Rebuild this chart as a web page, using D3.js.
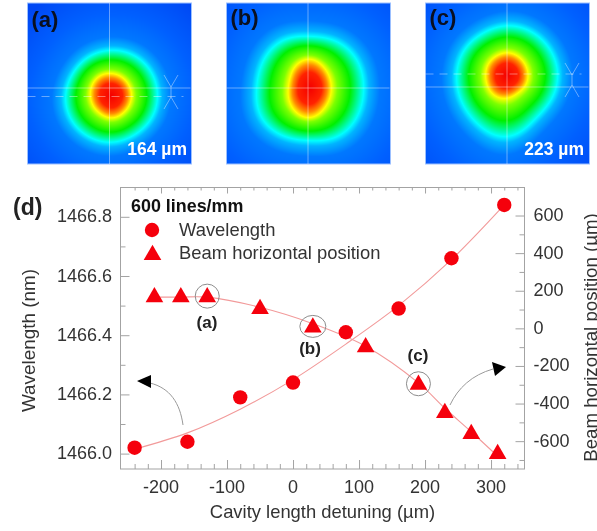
<!DOCTYPE html>
<html><head><meta charset="utf-8">
<script src="https://cdn.jsdelivr.net/npm/d3@7/dist/d3.min.js"></script>
<style>html,body{margin:0;padding:0;background:#fff;overflow:hidden}
#wrap{position:relative;width:597px;height:531px}
canvas{position:absolute;filter:blur(.6px)}svg{position:absolute;left:0;top:0;filter:blur(.3px)}
text{font-family:"Liberation Sans",Arial,sans-serif}</style></head>
<body><div id="wrap"></div>
<script>
// chart values
const wavelengthX=[-240,-160,-80,0,80,160,240,320];
const wavelengthY=[1466.02,1466.04,1466.19,1466.24,1466.41,1466.49,1466.66,1466.84];
const wavelengthFitX=[-240,-160,-80,0,80,160,240,320];
const wavelengthFitY=[1466.015,1466.07,1466.15,1466.25,1466.37,1466.5,1466.655,1466.84];
const beamX=[-210,-170,-130,-50,30,110,190,230,270,310];
const beamY=[166,166,166,103,5,-100,-300,-450,-562,-668];
const beamFitX=[-210,-170,-130,-50,30,110,190,230,270,310];
const beamFitY=[166,166,166,112,25,-95,-290,-425,-550,-680];
const xTicks=[-200,-100,0,100,200,300];
const leftTicks=[1466.0,1466.2,1466.4,1466.6,1466.8];
const rightTicks=[-600,-400,-200,0,200,400,600];
const circled=[{x:-130,y:166,label:"(a)"},{x:30,y:5,label:"(b)"},{x:190,y:-300,label:"(c)"}];
// beam profile panels: contour radii by angle, clockwise from +x
const panelNames=["(a)","(b)","(c)"];
const panelWidths=["164 µm","","223 µm"];
const panelLeft=[27.5,226.5,425.5];
const spotCentres=[[110.5,95],[309,87.5],[506,75]];
const spotOuter=[
 [46,46,45,47,47,47,46,44,45,45,46,46],
 [53,55,57,51,55,58,52,54,56,50,54,55],
 [51,50,50,65,56,52,50,50,48,50,50,50]];
const spotInner=[
 [20,20,21,23,21,21,21,22,23,22,21,20],
 [21,22,25,31,28,24,21,22,27,30,25,22],
 [21,21,20,23,24,22,21,22,22,23,22,21]];

const W=597,H=531;
const wrap=d3.select("#wrap");
const colour=d3.scaleLinear()
 .domain([0,.26,.38,.47,.57,.78,1,1.1,1.3,1.8,2.6])
 .range(["#f40000","#ff2200","#ff8c00","#ffff00","#7cff00","#00f000","#00ffff","#00b4ff","#0078ff","#0060ff","#0048f4"])
 .interpolate(d3.interpolateRgb).clamp(true);

panelLeft.forEach((left,i)=>{
  const pw=164,ph=161,top=3;
  const cv=wrap.append("canvas").attr("width",pw).attr("height",ph)
    .style("left",left+"px").style("top",top+"px").node();
  const ctx=cv.getContext("2d"),img=ctx.createImageData(pw,ph);
  const rOut=d3.interpolateBasisClosed(spotOuter[i]),rIn=d3.interpolateBasisClosed(spotInner[i]);
  const [cx,cy]=spotCentres[i];
  for(let y=0;y<ph;y++)for(let x=0;x<pw;x++){
    const dx=x+left-cx,dy=y+top-cy,r=Math.hypot(dx,dy);
    const a=((Math.atan2(dy,dx)/(2*Math.PI))+1)%1;
    const ro=rOut(a),ri=rIn(a);
    const t=r<ri?.47*r/ri:(r<ro?.47+.53*(r-ri)/(ro-ri):r/ro);
    const c=d3.rgb(colour(t)),k=(y*pw+x)*4;
    img.data[k]=c.r;img.data[k+1]=c.g;img.data[k+2]=c.b;img.data[k+3]=255;
  }
  ctx.putImageData(img,0,0);
});

const svg=wrap.append("svg").attr("width",W).attr("height",H);

// panel overlays
const overlay=[
 {v:109.5,h:88,d:96.5,xm:171,ym:92},
 {v:308,h:88},
 {v:507,h:87,d:74,xm:572,ym:80}];
panelLeft.forEach((left,i)=>{
  const g=svg.append("g"),o=overlay[i],r=left+164,hair="rgba(255,255,255,.4)";
  g.append("rect").attr("x",left).attr("y",3).attr("width",164).attr("height",161)
   .attr("fill","none").attr("stroke","#9cc0ff");
  g.append("line").attr("x1",o.v).attr("x2",o.v).attr("y1",3).attr("y2",164).attr("stroke",hair);
  g.append("line").attr("x1",left).attr("x2",r-1).attr("y1",o.h).attr("y2",o.h).attr("stroke",hair);
  if(o.d){
    g.append("line").attr("x1",left).attr("x2",r-8).attr("y1",o.d).attr("y2",o.d)
     .attr("stroke",hair).attr("stroke-dasharray","8 6");
    const m=o.xm,n=o.ym;
    g.append("path").attr("fill","none").attr("stroke",hair)
     .attr("d",`M${m-7},${n-17}L${m},${n-5}L${m},${n+5}L${m+7},${n+17}M${m+7},${n-17}L${m},${n-5}M${m},${n+5}L${m-7},${n+17}`);
  }
  g.append("text").attr("x",left+4).attr("y",i==0?27:25).attr("font-size",22).attr("font-weight",700)
   .attr("fill","#0a1020").text(panelNames[i]);
  if(panelWidths[i])g.append("text").attr("x",r-(i==0?4.5:5.5)).attr("y",155).attr("text-anchor","end")
   .attr("font-size",17.5).attr("font-weight",700).attr("fill","#fff").text(panelWidths[i]);
});

// chart (d)
const L=120.5,R=524.5,T=187.5,B=469;
const x=d3.scaleLinear().domain([-261.4,350.7]).range([L,R]);
const yL=d3.scaleLinear().domain([1465.948,1466.899]).range([B,T]);
const yR=d3.scaleLinear().domain([-748,749]).range([B,T]);
const tickGrey="#a3a3a3",textCol="#333",red="#f5000c";
const range=(a,b,s)=>d3.range(Math.round((b-a)/s)+1).map(i=>a+i*s);
const xMinor=range(-240,340,20).filter(v=>!xTicks.includes(v));
const lMinor=[1466.1,1466.3,1466.5,1466.7];
const rMinor=[-700,-500,-300,-100,100,300,500];

function ax(gen,scale,major,minor,tx,ty,majorLen,minorLen){
  const mk=(vals,len)=>{
    const g=svg.append("g").attr("transform",`translate(${tx},${ty})`)
     .call(gen(scale).tickValues(vals).tickSizeInner(-len).tickSizeOuter(0).tickFormat(""));
    g.selectAll(".domain").remove();
    g.selectAll("line").attr("stroke",tickGrey);
    return g;
  };
  mk(minor,minorLen);
  return mk(major,majorLen);
}
ax(d3.axisBottom,x,xTicks,xMinor,0,B,9,5);
svg.append("g").attr("transform",`translate(0,${B})`).selectAll("text").data(xTicks).join("text")
  .attr("x",d=>x(d)).attr("y",23.5).attr("text-anchor","middle").attr("font-size",18).attr("fill",textCol)
  .text(d=>d3.format("d")(d).replace("−","-"));
ax(d3.axisTop,x,xTicks,xMinor,0,T,6,3);
ax(d3.axisLeft,yL,leftTicks,lMinor,L,0,9,5);
svg.append("g").selectAll("text").data(leftTicks).join("text")
  .attr("x",112).attr("y",d=>yL(d)+5.5).attr("text-anchor","end").attr("font-size",18).attr("fill",textCol)
  .text(d=>d3.format(".1f")(d));
ax(d3.axisRight,yR,rightTicks,rMinor,R,0,9,5);
svg.append("g").selectAll("text").data(rightTicks).join("text")
  .attr("x",533.5).attr("y",d=>yR(d)+5.5).attr("font-size",18).attr("fill",textCol)
  .text(d=>d3.format("d")(d).replace("−","-"));
svg.append("rect").attr("x",L).attr("y",T).attr("width",R-L).attr("height",B-T).attr("fill","none").attr("stroke",tickGrey);

// fit curves
const lineL=d3.line().x(d=>x(d[0])).y(d=>yL(d[1])).curve(d3.curveCatmullRom);
const lineR=d3.line().x(d=>x(d[0])).y(d=>yR(d[1])).curve(d3.curveCatmullRom);
svg.append("path").attr("d",lineL(d3.zip(wavelengthFitX,wavelengthFitY))).attr("fill","none").attr("stroke","#f29a9a").attr("stroke-width",1.1);
svg.append("path").attr("d",lineR(d3.zip(beamFitX,beamFitY))).attr("fill","none").attr("stroke","#f29a9a").attr("stroke-width",1.1);

// markers
const tri=d3.symbol().type(d3.symbolTriangle).size(135);
svg.append("g").selectAll("circle").data(d3.zip(wavelengthX,wavelengthY)).join("circle")
  .attr("cx",d=>x(d[0])).attr("cy",d=>yL(d[1])).attr("r",7.2).attr("fill",red);
svg.append("g").selectAll("path").data(d3.zip(beamX,beamY)).join("path")
  .attr("d",tri).attr("transform",d=>`translate(${x(d[0])},${yR(d[1])})`).attr("fill",red);

// callouts
const ringSize=[[12,12],[13,11],[12,12]];
svg.append("g").selectAll("ellipse").data(circled).join("ellipse")
  .attr("cx",d=>x(d.x)).attr("cy",d=>yR(d.y)-1).attr("rx",(d,i)=>ringSize[i][0]).attr("ry",(d,i)=>ringSize[i][1])
  .attr("fill","none").attr("stroke","#8c8c8c");
const labelPos=[[207,328],[310,354],[418,361]];
svg.append("g").selectAll("text").data(circled).join("text")
  .attr("x",(d,i)=>labelPos[i][0]).attr("y",(d,i)=>labelPos[i][1]).attr("text-anchor","middle")
  .attr("font-size",17).attr("font-weight",700).attr("fill","#222").text(d=>d.label);

// legend
svg.append("text").attr("x",13).attr("y",215).attr("font-size",23).attr("font-weight",700).attr("fill","#222").text("(d)");
svg.append("text").attr("x",131).attr("y",212).attr("font-size",17.9).attr("font-weight",700).attr("fill","#111").text("600 lines/mm");
svg.append("circle").attr("cx",152).attr("cy",230).attr("r",7.2).attr("fill",red);
svg.append("path").attr("d",tri).attr("transform","translate(152.5,255)").attr("fill",red);
svg.append("text").attr("x",179).attr("y",236).attr("font-size",18.4).attr("fill",textCol).text("Wavelength");
svg.append("text").attr("x",179).attr("y",259).attr("font-size",18.4).attr("fill",textCol).text("Beam horizontal position");

// axis titles
svg.append("text").attr("x",322.5).attr("y",518).attr("text-anchor","middle").attr("font-size",18.4).attr("fill",textCol).text("Cavity length detuning (µm)");
svg.append("text").attr("transform","translate(34.5,340.5) rotate(-90)").attr("text-anchor","middle").attr("font-size",18.9).attr("fill",textCol).text("Wavelength (nm)");
svg.append("text").attr("transform","translate(597,337.5) rotate(-90)").attr("text-anchor","middle").attr("font-size",18.7).attr("fill",textCol).text("Beam horizontal position (µm)");

// arrows
svg.append("path").attr("d","M183,425C180,403 170,388 150,383").attr("fill","none").attr("stroke","#999");
svg.append("path").attr("d","M137,381L151,375L151,388Z").attr("fill","#000");
svg.append("path").attr("d","M450,405C458,388 472,375 493,369").attr("fill","none").attr("stroke","#999");
svg.append("path").attr("d","M506,367L492,362L495,376Z").attr("fill","#000");
</script></body></html>
